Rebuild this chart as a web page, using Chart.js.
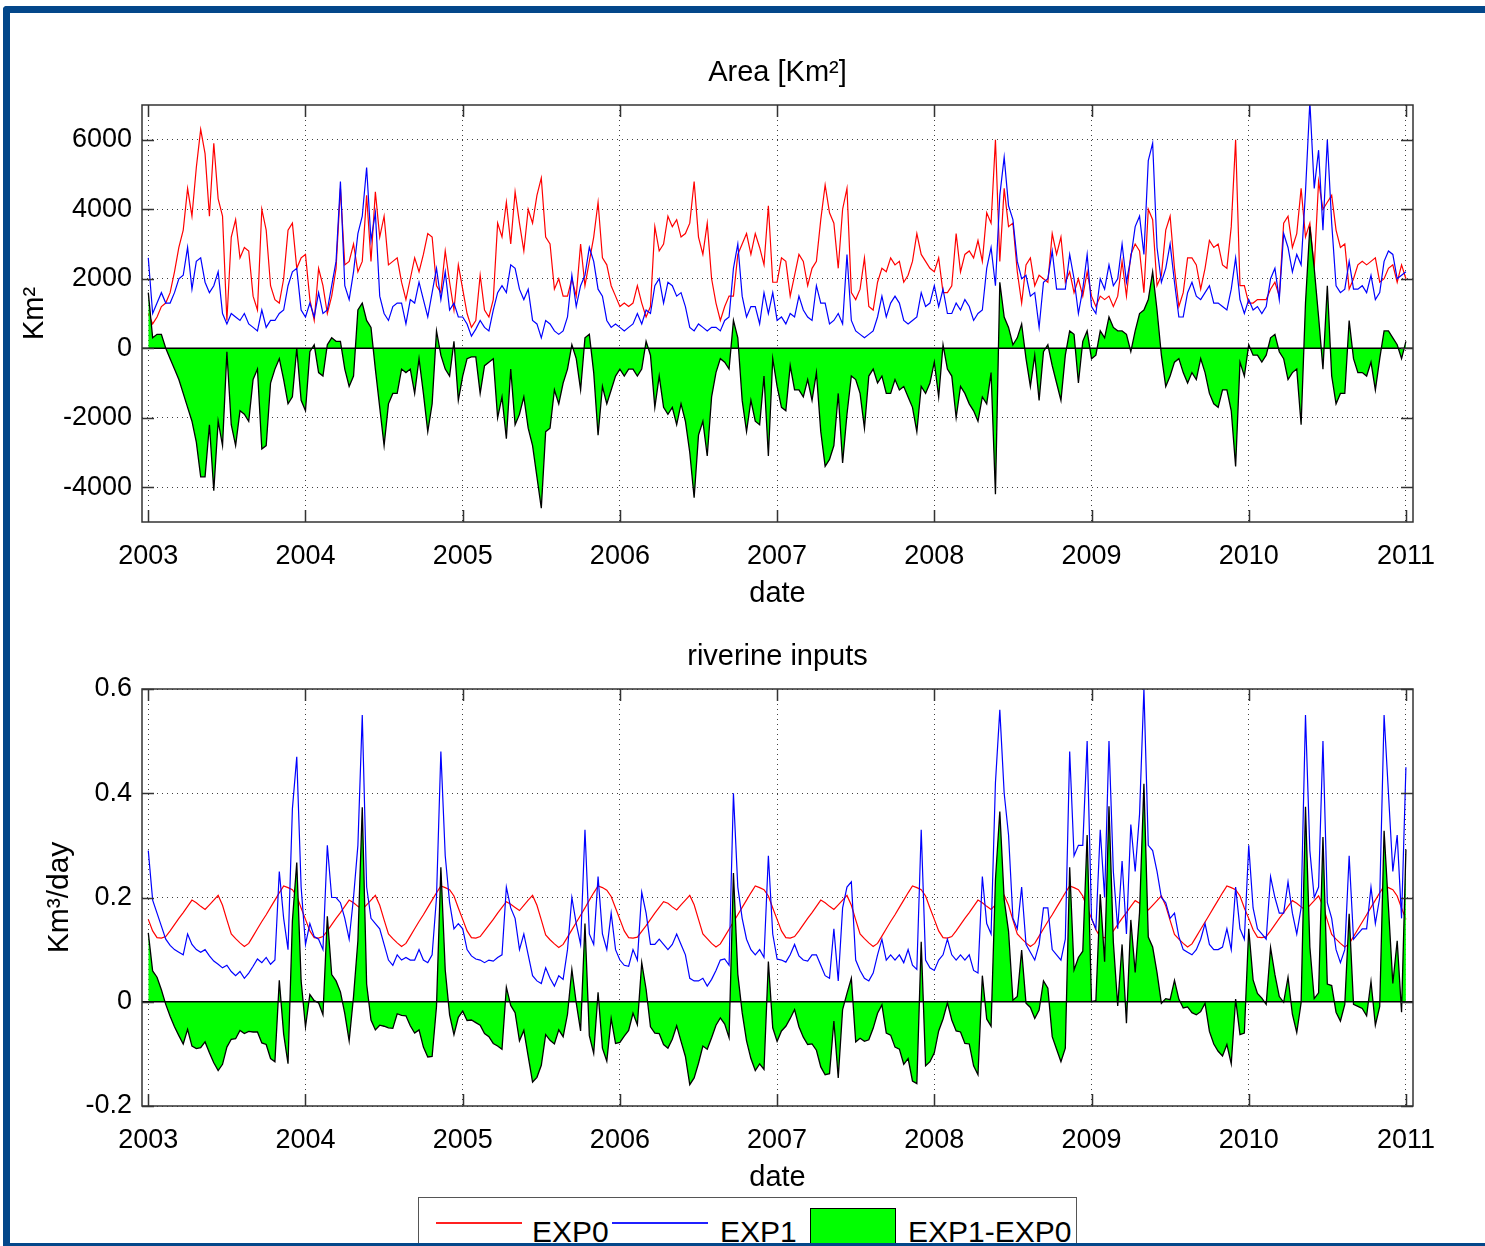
<!DOCTYPE html>
<html>
<head>
<meta charset="utf-8">
<script src="https://cdn.jsdelivr.net/npm/chart.js@4.4.1/dist/chart.umd.min.js"></script>
<style>
html,body{margin:0;padding:0;background:#fff;}
#page{position:relative;width:1485px;height:1246px;overflow:hidden;background:#fff;font-family:'Liberation Sans',Arial,Helvetica,sans-serif;}
canvas{position:absolute;left:0;}
.bar{position:absolute;background:#03478a;}
#legend{position:absolute;left:418px;top:1197px;width:659px;height:70px;border:1px solid #555;background:#fff;box-sizing:border-box;}
#legend .ln{position:absolute;top:24px;height:2px;}
#legend .tx{position:absolute;top:19px;font-size:30px;line-height:30px;color:#000;white-space:nowrap;}
#legend .sw{position:absolute;top:10px;width:86px;height:60px;background:#00ff00;border:1px solid #000;box-sizing:border-box;}
</style>
</head>
<body>
<div id="page">
  <canvas id="c1" width="1485" height="640" style="top:0px"></canvas>
  <canvas id="c2" width="1485" height="624" style="top:600px"></canvas>
  <div id="legend">
    <div class="ln" style="left:17px;width:86px;background:#ff2020;"></div>
    <div class="tx" id="lg0" style="left:113px;"></div>
    <div class="ln" style="left:193px;width:96px;background:#2020ff;"></div>
    <div class="tx" id="lg1" style="left:301px;"></div>
    <div class="sw" style="left:391px;"></div>
    <div class="tx" id="lg2" style="left:489px;"></div>
  </div>
  <div class="bar" style="left:3px;top:6px;width:1482px;height:7px;border-top-left-radius:4px;"></div>
  <div class="bar" style="left:3px;top:6px;width:7px;height:1240px;border-top-left-radius:4px;"></div>
  <div class="bar" style="left:3px;top:1243px;width:1482px;height:3px;"></div>
</div>
<script>
// ---- data ----
const startYear = 2003;
const samplesPerYear = 36;
const yearTicks = [2003, 2004, 2005, 2006, 2007, 2008, 2009, 2010, 2011];
const areaTicks = [-4000, -2000, 0, 2000, 4000, 6000];
const riverTicks = [-0.2, 0, 0.2, 0.4, 0.6];
const seriesNames = ['EXP0', 'EXP1', 'EXP1-EXP0'];
const titles = ['Area [Km²]', 'riverine inputs'];
const yTitles = ['Km²', 'Km³/day'];
const xTitle = 'date';

// Area, EXP0 (red)
const areaExp0 = [
 1000,700,900,1200,1300,1600,2200,2900,3400,4600,3800,5200,6300,5600,3800,5900,4300,3800,800,3200,3700,2600,2900,2800,1500,1100,4000,3400,1800,1400,1300,2000,3400,3600,2300,2600,
 2700,1400,800,2300,1800,1000,1500,2300,4600,2400,2500,3000,2200,2500,4400,2500,4500,3200,3800,2400,2500,2600,1900,1400,2000,2600,2200,2700,3300,3200,1800,1600,2800,1900,1100,2400,
 1700,1000,600,800,2100,1100,900,1400,3600,3200,4200,3000,4500,3600,2800,4000,3600,4400,4900,3200,3000,1700,2000,1500,1500,2000,1500,3000,1800,2500,3200,4200,2600,2400,1800,1500,
 1200,1300,1200,1300,1800,1300,900,1200,3500,2800,3000,3800,3500,3700,3200,3300,3600,4800,3200,2700,3600,2000,1300,800,1200,1500,1500,2700,3000,3300,2700,3300,2900,2400,4100,1900,
 1900,2600,2500,1500,2100,2700,2500,1800,2300,2500,3700,4700,3900,3600,2300,4000,4600,1600,1400,1700,2600,1200,1100,1900,2300,2200,2600,2400,2500,1900,2100,2500,3300,2700,2500,2300,
 2200,2600,1600,1600,1800,3300,2200,2700,2800,2600,3100,2500,3900,3600,6000,2500,4600,3500,3600,2200,1300,2400,2600,1800,2100,2000,1900,3300,2700,3200,1900,2200,1600,2000,1500,2200,
 1500,1200,1500,1400,1500,1200,1500,2500,1500,2700,3000,2800,1600,4000,3700,1800,2100,3400,3800,2300,1200,1600,2600,2600,2400,1700,2300,3100,2900,3000,2400,2300,3500,6000,1800,1800,
 1300,1300,1400,1400,1400,1700,1900,1500,3600,3800,2900,3300,4600,3200,3600,2300,4800,4000,4200,4400,3400,2900,3000,1700,2000,2400,2500,2400,2500,2600,1900,2000,2300,2400,1900,2400,
 2000
];
// Area, EXP1 (blue)
const areaExp1 = [
 2600,1000,1300,1600,1300,1300,1600,2000,2100,2900,1700,2500,2600,1900,1600,1800,2200,1000,700,1000,900,800,1000,700,600,500,1100,600,800,800,1000,1100,1800,2200,2300,1100,
 900,1300,900,1600,1000,1100,1800,2500,4800,1800,1400,2200,3300,3800,5200,3100,3900,1500,1000,800,1200,1300,1300,700,1400,1300,1900,1400,900,1600,2300,1400,2200,1100,1300,900,
 900,700,350,550,800,600,500,1100,1600,1800,1600,2400,2300,1700,1400,1700,800,700,300,800,700,500,400,500,900,2100,1200,1800,2100,2900,2500,1700,1500,800,600,700,
 600,500,600,700,1000,700,1100,1000,1800,2000,1300,1900,1800,1500,1600,1200,600,500,700,600,500,600,600,500,800,900,2300,3000,1500,900,1200,1200,700,1600,1000,1600,
 800,900,700,1000,900,1500,1100,900,800,1800,1300,1300,700,800,1000,700,2700,800,500,400,300,400,500,900,1500,900,1300,1500,1300,800,700,800,900,1600,1200,1300,
 1800,1200,1700,1000,1000,1300,1100,1400,1200,800,1000,1100,2300,2900,1800,4400,5500,4100,3700,2500,2000,2100,1500,1600,600,1900,2000,2800,1700,1700,1700,2700,2000,1000,1700,2700,
 1200,1000,2000,1700,2400,1800,2000,3000,1900,2600,3500,3800,2700,5400,5900,2900,1900,2300,3000,1900,900,900,1600,1900,1500,1400,1600,1800,1300,1300,1200,1100,1700,2600,1400,1000,
 1400,1100,1200,1000,1200,2000,2300,1400,3300,2900,2200,2700,2400,4500,7100,4600,5700,3400,6000,3600,1800,1600,1700,2500,1700,1700,1800,1600,2100,1400,1600,2500,2800,2700,2000,2100,
 2200
];
// Riverine inputs, EXP0 (red)
const riverExp0 = [
 0.158,0.136,0.123,0.122,0.125,0.136,0.148,0.160,0.171,0.183,0.195,0.190,0.183,0.177,0.186,0.195,0.204,0.185,0.157,0.130,0.121,0.113,0.106,0.112,0.126,0.140,0.154,0.167,0.181,0.195,0.209,0.222,0.219,0.215,0.203,0.180,
 0.158,0.136,0.123,0.122,0.125,0.136,0.148,0.160,0.171,0.183,0.195,0.190,0.183,0.177,0.186,0.195,0.204,0.185,0.157,0.130,0.121,0.113,0.106,0.112,0.126,0.140,0.154,0.167,0.181,0.195,0.209,0.222,0.219,0.215,0.203,0.180,
 0.158,0.136,0.123,0.122,0.125,0.136,0.147,0.158,0.170,0.181,0.192,0.187,0.181,0.175,0.185,0.195,0.204,0.185,0.157,0.128,0.119,0.111,0.104,0.110,0.124,0.138,0.152,0.166,0.180,0.195,0.209,0.222,0.219,0.214,0.202,0.180,
 0.158,0.136,0.123,0.122,0.124,0.135,0.146,0.158,0.170,0.181,0.192,0.189,0.182,0.176,0.186,0.195,0.204,0.186,0.158,0.130,0.121,0.112,0.105,0.111,0.125,0.139,0.153,0.167,0.181,0.195,0.209,0.222,0.219,0.215,0.203,0.180,
 0.158,0.136,0.123,0.122,0.125,0.136,0.148,0.160,0.171,0.183,0.195,0.190,0.183,0.177,0.186,0.195,0.204,0.185,0.157,0.130,0.121,0.113,0.106,0.112,0.126,0.140,0.154,0.167,0.181,0.195,0.209,0.222,0.219,0.215,0.203,0.180,
 0.158,0.136,0.123,0.122,0.125,0.136,0.148,0.160,0.171,0.183,0.195,0.190,0.183,0.177,0.186,0.195,0.204,0.185,0.157,0.130,0.121,0.113,0.106,0.112,0.126,0.140,0.154,0.167,0.181,0.195,0.209,0.222,0.219,0.215,0.203,0.180,
 0.160,0.138,0.124,0.123,0.125,0.136,0.148,0.160,0.171,0.183,0.194,0.189,0.182,0.176,0.185,0.194,0.203,0.184,0.156,0.129,0.120,0.112,0.105,0.111,0.125,0.139,0.153,0.167,0.181,0.195,0.209,0.222,0.219,0.215,0.203,0.180,
 0.160,0.138,0.124,0.123,0.125,0.136,0.148,0.160,0.171,0.183,0.194,0.189,0.182,0.176,0.185,0.194,0.203,0.184,0.156,0.129,0.120,0.112,0.105,0.111,0.125,0.139,0.153,0.167,0.181,0.195,0.209,0.222,0.219,0.215,0.203,0.180,
 0.158
];
// Riverine inputs, EXP1 (blue)
const riverExp1 = [
 0.29,0.195,0.17,0.145,0.12,0.108,0.10,0.095,0.09,0.13,0.11,0.10,0.095,0.10,0.088,0.078,0.072,0.065,0.07,0.058,0.05,0.058,0.045,0.055,0.068,0.082,0.075,0.085,0.072,0.08,0.25,0.16,0.10,0.37,0.47,0.22,
 0.11,0.15,0.125,0.12,0.10,0.30,0.20,0.20,0.19,0.16,0.12,0.20,0.30,0.55,0.22,0.16,0.15,0.14,0.11,0.08,0.07,0.09,0.08,0.085,0.08,0.08,0.10,0.08,0.075,0.09,0.20,0.48,0.28,0.19,0.14,0.15,
 0.14,0.10,0.088,0.082,0.08,0.075,0.08,0.078,0.085,0.09,0.22,0.18,0.16,0.10,0.13,0.09,0.05,0.04,0.035,0.065,0.045,0.03,0.05,0.043,0.10,0.20,0.15,0.11,0.33,0.13,0.11,0.24,0.13,0.10,0.17,0.10,
 0.08,0.07,0.068,0.10,0.08,0.21,0.17,0.11,0.11,0.12,0.11,0.10,0.11,0.13,0.11,0.09,0.045,0.04,0.04,0.045,0.03,0.043,0.06,0.08,0.082,0.07,0.40,0.22,0.16,0.12,0.10,0.09,0.10,0.085,0.28,0.13,
 0.082,0.08,0.076,0.09,0.11,0.088,0.08,0.078,0.09,0.09,0.07,0.05,0.045,0.14,0.04,0.18,0.22,0.23,0.08,0.06,0.045,0.04,0.055,0.09,0.12,0.08,0.09,0.08,0.09,0.075,0.10,0.07,0.062,0.33,0.08,0.065,
 0.06,0.08,0.09,0.12,0.09,0.08,0.09,0.08,0.09,0.06,0.055,0.24,0.15,0.13,0.42,0.56,0.40,0.32,0.16,0.14,0.22,0.11,0.095,0.08,0.11,0.18,0.18,0.10,0.09,0.08,0.12,0.48,0.28,0.30,0.30,0.50,
 0.16,0.14,0.33,0.20,0.50,0.25,0.14,0.27,0.13,0.34,0.25,0.36,0.60,0.30,0.29,0.25,0.20,0.19,0.16,0.17,0.125,0.10,0.095,0.09,0.10,0.12,0.15,0.11,0.10,0.10,0.105,0.14,0.10,0.22,0.14,0.12,
 0.30,0.18,0.14,0.13,0.12,0.24,0.20,0.17,0.17,0.23,0.17,0.13,0.18,0.55,0.29,0.20,0.22,0.50,0.19,0.16,0.10,0.075,0.10,0.28,0.12,0.13,0.14,0.14,0.22,0.15,0.20,0.55,0.40,0.25,0.32,0.16,
 0.45
];

// ---- drawing ----
document.getElementById('lg0').textContent = seriesNames[0];
document.getElementById('lg1').textContent = seriesNames[1];
document.getElementById('lg2').textContent = seriesNames[2];

Chart.defaults.font.family = "'Liberation Sans', Arial, Helvetica, sans-serif";
Chart.defaults.color = '#000';

const framePlugin = {
  id: 'frame',
  afterDatasetsDraw(chart) {
    const {ctx, chartArea: a, scales} = chart;
    const x = scales.x, y = scales.y;
    ctx.save();
    const y0 = y.getPixelForValue(0);
    ctx.strokeStyle = '#000';
    ctx.lineWidth = 1.5;
    ctx.beginPath();
    ctx.moveTo(a.left, y0); ctx.lineTo(a.right, y0);
    ctx.stroke();
    ctx.strokeStyle = '#333';
    ctx.lineWidth = 1.5;
    ctx.strokeRect(a.left, a.top, a.right - a.left, a.bottom - a.top);
    const L = 12;
    ctx.beginPath();
    x.ticks.forEach(t => {
      const px = Math.round(x.getPixelForValue(t.value)) + 0.5;
      ctx.moveTo(px, a.bottom); ctx.lineTo(px, a.bottom - L);
      ctx.moveTo(px, a.top); ctx.lineTo(px, a.top + L);
    });
    y.ticks.forEach(t => {
      const py = Math.round(y.getPixelForValue(t.value)) + 0.5;
      ctx.moveTo(a.left, py); ctx.lineTo(a.left + L, py);
      ctx.moveTo(a.right, py); ctx.lineTo(a.right - L, py);
    });
    ctx.stroke();
    ctx.restore();
  }
};

function makeChart(id, exp0, exp1, yMin, yMax, yTickVals, title, titlePadTop, yTitle, yTitleSize, yTitlePadTop) {
  const times = exp0.map((_, i) => startYear + i / samplesPerYear);
  const d0 = exp0.map((v, i) => ({x: times[i], y: v}));
  const d1 = exp1.map((v, i) => ({x: times[i], y: v}));
  const dd = exp1.map((v, i) => ({x: times[i], y: v - exp0[i]}));
  const gridDash = {display: false, dash: [1, 4]};
  return new Chart(document.getElementById(id), {
    type: 'line',
    data: {
      datasets: [
        {label: seriesNames[2], data: dd, borderColor: '#000', borderWidth: 1.3, backgroundColor: '#00ff00', fill: 'origin', pointRadius: 0, tension: 0},
        {label: seriesNames[1], data: d1, borderColor: '#0000ff', borderWidth: 1.2, fill: false, pointRadius: 0, tension: 0},
        {label: seriesNames[0], data: d0, borderColor: '#ff0000', borderWidth: 1.2, fill: false, pointRadius: 0, tension: 0}
      ]
    },
    options: {
      responsive: false,
      animation: false,
      events: [],
      devicePixelRatio: 1,
      layout: {padding: {left: 0, right: 72, top: 0, bottom: 0}},
      plugins: {
        legend: {display: false},
        tooltip: {enabled: false},
        title: {display: true, text: title, fullSize: false, font: {size: 29, weight: 'normal'}, color: '#000',
                padding: {top: titlePadTop, bottom: 14.6}}
      },
      scales: {
        x: {
          type: 'linear', min: 2002.96, max: 2011.045,
          afterBuildTicks: s => { s.ticks = yearTicks.map(v => ({value: v})); },
          afterFit: s => { s.height = 118; },
          ticks: {autoSkip: false, maxRotation: 0, padding: 18, font: {size: 27}, color: '#000', callback: v => String(v)},
          grid: {color: 'rgba(0,0,0,0.75)', lineWidth: 1, drawTicks: false},
          border: gridDash,
          title: {display: true, text: xTitle, font: {size: 29}, color: '#000', padding: {top: 0, bottom: 28.6}}
        },
        y: {
          type: 'linear', min: yMin, max: yMax,
          afterBuildTicks: s => { s.ticks = yTickVals.map(v => ({value: v})); },
          afterFit: s => { s.width = 142; },
          ticks: {autoSkip: false, padding: 10, font: {size: 27}, color: '#000', callback: v => String(v)},
          grid: {color: 'rgba(0,0,0,0.75)', lineWidth: 1, drawTicks: false},
          border: gridDash,
          title: {display: true, text: yTitle, font: {size: yTitleSize}, color: '#000', padding: {top: yTitlePadTop, bottom: 0}}
        }
      }
    },
    plugins: [framePlugin]
  });
}

makeChart('c1', areaExp0, areaExp1, -5000, 7000, areaTicks, titles[0], 55.6, yTitles[0], 29, 17.6);
makeChart('c2', riverExp0, riverExp1, -0.2, 0.6, riverTicks, titles[1], 39.6, yTitles[1], 30, 42);
</script>
</body>
</html>
